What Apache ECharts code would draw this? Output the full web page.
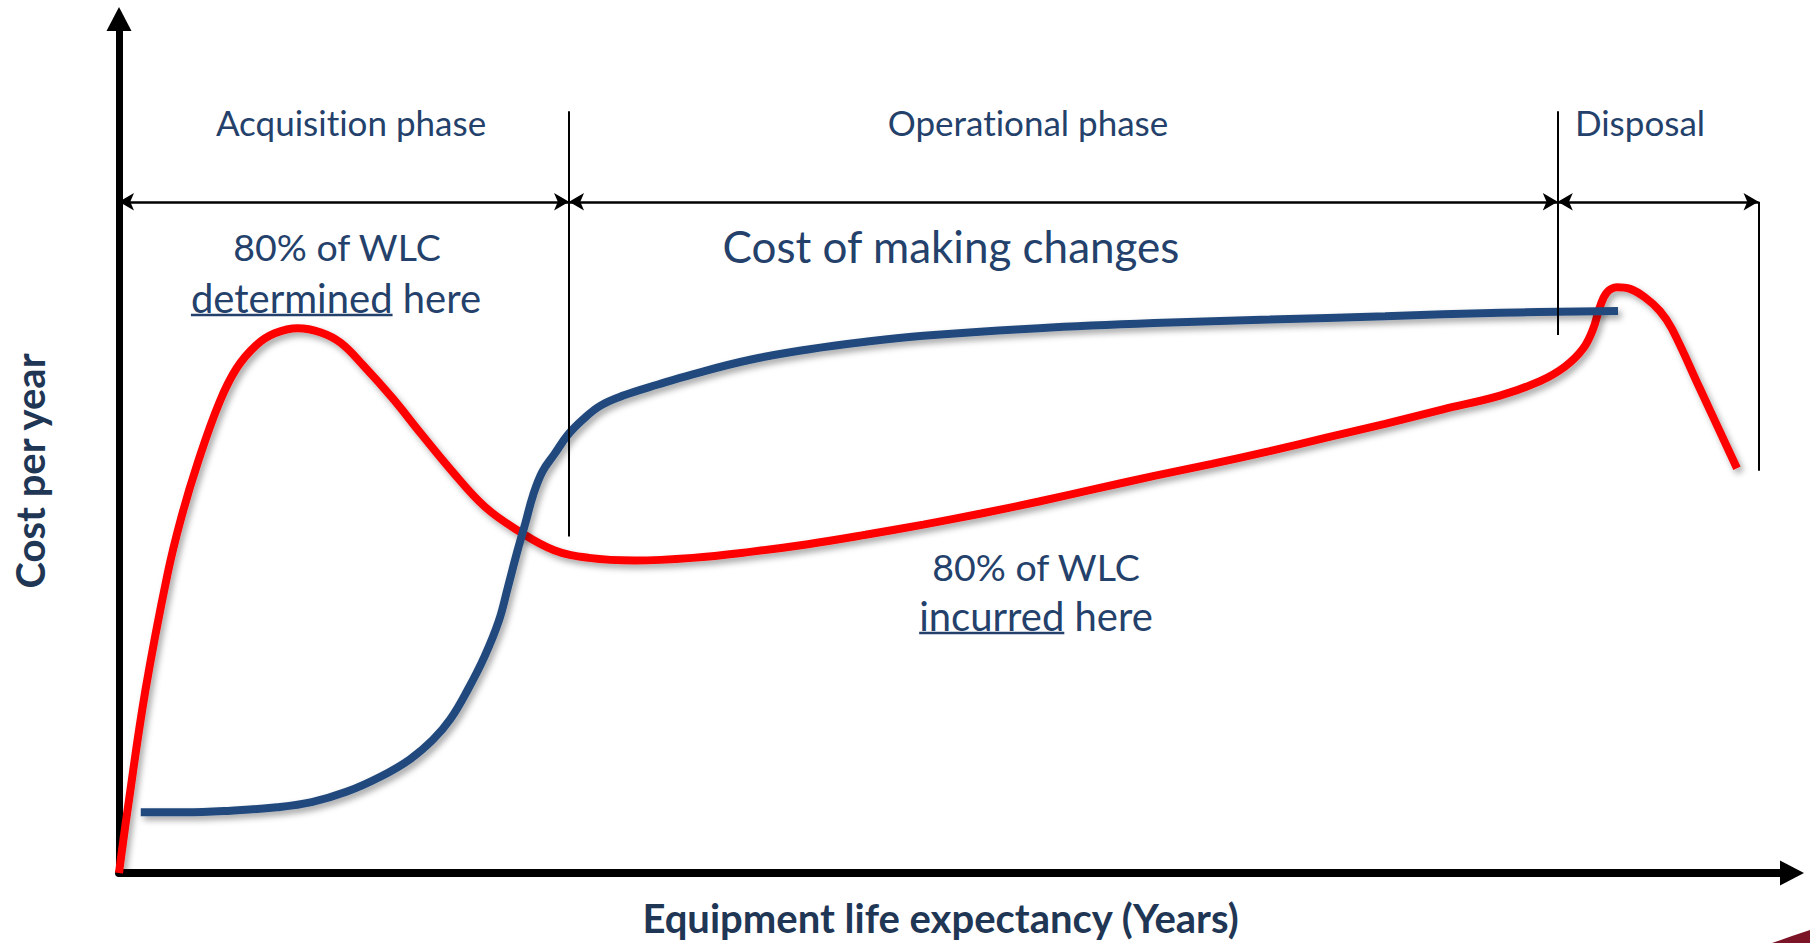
<!DOCTYPE html>
<html>
<head>
<meta charset="utf-8">
<title>Whole life cost</title>
<script src="https://cdn.jsdelivr.net/npm/echarts@6/dist/echarts.min.js"></script>
<style>
	html, body { margin: 0; padding: 0; background: #fff; }
	#chart { width: 1810px; height: 943px; }
	#chart text {
		font-variant-ligatures: none !important;
		font-feature-settings: "liga" 0, "clig" 0, "dlig" 0 !important;
	}
</style>
</head>
<body>
<div id="chart"></div>
<script>
// life axis 0..100, cost axis 0..100 (no units shown)
// red: cost per year
var costCurve = [
	[0, 0], [0.55, 7.9], [1.58, 21.4], [2.89, 34.9], [3.72, 41.6], [4.75, 48.3],
	[6.0, 55.1], [7.03, 59.1], [8.2, 61.8], [9.31, 63.2], [10.69, 63.8], [12.07, 63.3],
	[13.24, 62.1], [14.62, 59.4], [16.35, 55.6], [18.07, 51.4], [19.8, 47.3], [21.86, 42.9],
	[23.93, 40.0], [26.01, 37.8], [28.08, 36.9], [30.84, 36.6], [34.29, 36.9], [37.73, 37.6],
	[41.18, 38.5], [44.63, 39.6], [48.08, 40.8], [51.54, 42.1], [54.99, 43.5], [58.43, 45.0],
	[61.88, 46.5], [65.33, 47.9], [68.78, 49.4], [72.23, 51.0], [75.68, 52.6], [79.14, 54.3],
	[82.55, 55.9], [84.94, 57.6], [86.43, 59.3], [87.51, 61.4], [88.11, 63.7], [88.52, 66.3],
	[88.94, 68.0], [89.54, 68.6], [90.32, 68.4], [91.21, 67.4], [92.11, 65.8], [92.83, 63.7],
	[94.5, 56.7], [96.71, 47.4]
];
// blue: cost of making changes
var changeCurve = [
	[1.3, 7.1], [3.93, 7.1], [6.69, 7.3], [9.44, 7.7], [11.52, 8.3], [13.59, 9.5],
	[15.65, 11.3], [17.38, 13.3], [18.76, 15.6], [19.8, 18.0], [20.83, 21.4], [21.86, 25.4],
	[22.7, 29.5], [23.25, 33.5], [23.8, 37.6], [24.28, 40.9], [24.76, 44.3], [25.31, 47.0],
	[26.01, 49.0], [26.83, 51.3], [27.73, 53.1], [28.76, 54.7], [30.14, 55.9], [32.22, 57.2],
	[34.29, 58.4], [37.73, 60.1], [41.18, 61.3], [44.63, 62.2], [48.08, 62.9], [54.99, 63.8],
	[61.88, 64.4], [68.78, 64.8], [75.68, 65.2], [82.58, 65.6], [89.6, 65.8]
];
// phases along the life axis
var phaseNames = ['Acquisition phase', 'Operational phase', 'Disposal'];
var phaseEdges = [0, 26.9, 86.0, 98.0];
var dimLevel = 78.6;
var dividerTop = [89.2, 89.2, 78.6];
var dividerBottom = [39.4, 63.0, 47.1];

var chart = echarts.init(document.getElementById('chart'), null, { renderer: 'svg' });

var FONT = 'Lato, "Open Sans", sans-serif';
var TEXT = '#24416B';
var TITLE = '#1F3655';

var ctx = document.createElement('canvas').getContext('2d');
function textWidth(text, font) {
	ctx.font = font;
	return ctx.measureText(text).width;
}

function label(text, x, y, size) {
	return {
		type: 'text', x: x, y: y, silent: true,
		style: {
			text: text, fill: TEXT, font: size + 'px ' + FONT,
			align: 'center', verticalAlign: 'middle',
			textAlign: 'center', textVerticalAlign: 'middle'
		}
	};
}

// text with the first word underlined
function underlined(word, rest, x, y, size) {
	var font = size + 'px ' + FONT;
	var full = textWidth(word + ' ' + rest, font);
	var w = textWidth(word, font);
	var left = x - full / 2;
	return [
		label(word + ' ' + rest, x, y, size),
		{
			type: 'line', silent: true,
			shape: { x1: left, y1: y + 17, x2: left + w, y2: y + 17 },
			style: { stroke: TEXT, lineWidth: 2.5 }
		}
	];
}

var marks = [];
for (var i = 0; i < 3; i++) {
	marks.push([
		{ coord: [phaseEdges[i], dimLevel], symbol: 'arrow', lineStyle: { width: 2.5 } },
		{ coord: [phaseEdges[i + 1], dimLevel], symbol: 'arrow' }
	]);
	marks.push([
		{ coord: [phaseEdges[i + 1], dividerTop[i]], symbol: 'none', lineStyle: { width: 2 } },
		{ coord: [phaseEdges[i + 1], dividerBottom[i]], symbol: 'none' }
	]);
}

var phaseX = [351, 1028, 1640];
var graphics = [];
for (var j = 0; j < phaseNames.length; j++) {
	graphics.push(label(phaseNames[j], phaseX[j], 122, 35));
}
graphics.push(label('80% of WLC', 337, 246, 37.5));
graphics = graphics.concat(underlined('determined', 'here', 336, 298, 40));
graphics.push(label('Cost of making changes', 951, 246, 44));
graphics.push(label('80% of WLC', 1036, 566, 37.5));
graphics = graphics.concat(underlined('incurred', 'here', 1036, 616, 40));
// slide template corner
graphics.push({
	type: 'polygon', silent: true,
	shape: { points: [[1772, 943], [1792, 936], [1810, 930], [1810, 943]] },
	style: { fill: '#7A1426' }
});

var shadow = {
	shadowColor: 'rgba(0, 0, 0, 0.35)',
	shadowBlur: 6,
	shadowOffsetX: 3,
	shadowOffsetY: 4
};

option = {
	animation: false,
	grid: {
		left: 119,
		right: 18,
		top: 19,
		bottom: 67
	},
	xAxis: {
		type: 'value',
		min: 0,
		max: 100,
		name: 'Equipment life expectancy (Years)',
		nameLocation: 'middle',
		nameGap: 25,
		nameTextStyle: {
			color: TITLE,
			fontFamily: FONT,
			fontWeight: 'bold',
			fontSize: 40,
			padding: [0, 30, 0, 0]
		},
		axisLine: {
			symbol: ['none', 'triangle'],
			symbolSize: [25, 24],
			lineStyle: { color: '#000', width: 8 }
		},
		axisTick: { show: false },
		axisLabel: { show: false },
		splitLine: { show: false }
	},
	yAxis: {
		type: 'value',
		min: 0,
		max: 100,
		name: 'Cost per year',
		nameLocation: 'middle',
		nameGap: 69,
		nameRotate: 90,
		nameTextStyle: {
			color: TITLE,
			fontFamily: FONT,
			fontWeight: 'bold',
			fontSize: 40,
			padding: [0, 50, 0, 0]
		},
		axisLine: {
			symbol: ['none', 'triangle'],
			symbolSize: [25, 24],
			lineStyle: { color: '#000', width: 7 }
		},
		axisTick: { show: false },
		axisLabel: { show: false },
		splitLine: { show: false }
	},
	graphic: graphics,
	series: [
		{
			name: 'Cost per year',
			type: 'line',
			smooth: 0.4,
			showSymbol: false,
			silent: true,
			data: costCurve,
			lineStyle: Object.assign({ color: '#FF0000', width: 8 }, shadow)
		},
		{
			name: 'Cost of making changes',
			type: 'line',
			smooth: 0.4,
			showSymbol: false,
			silent: true,
			data: changeCurve,
			lineStyle: Object.assign({ color: '#234A7D', width: 8 }, shadow),
			markLine: {
				silent: true,
				symbolSize: [13, 15],
				label: { show: false },
				lineStyle: { color: '#000', type: 'solid', width: 2 },
				emphasis: { disabled: true },
				data: marks
			}
		}
	]
};

if (option && typeof option === "object") {
	chart.setOption(option, true);
}
</script>
</body>
</html>
